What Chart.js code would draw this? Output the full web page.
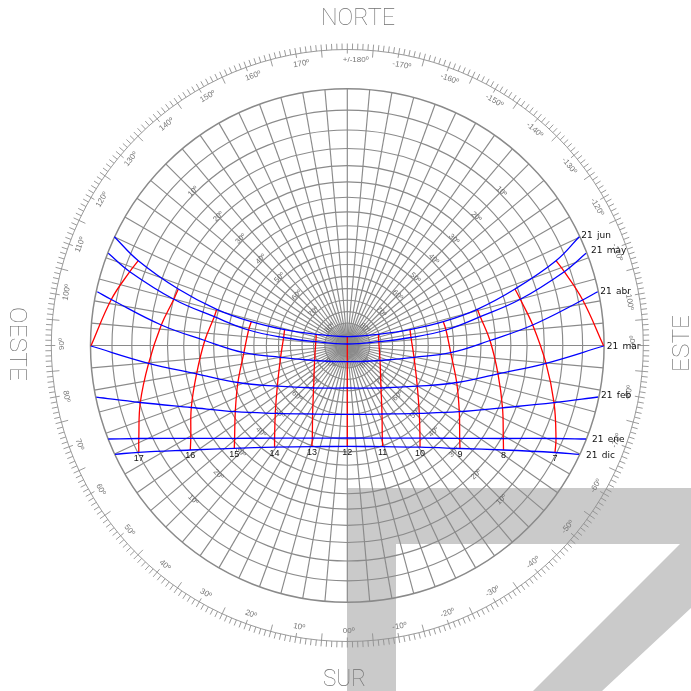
<!DOCTYPE html>
<html>
<head>
<meta charset="utf-8">
<title>Carta solar</title>
<script src="https://cdn.jsdelivr.net/npm/chart.js@4/dist/chart.umd.min.js"></script>
<style>
    html, body { margin: 0; padding: 0; background: #fff; }
    canvas { display: block; }
</style>
</head>
<body>
<canvas id="chart" width="691" height="691"></canvas>
<script>
// slots: west end, 18h ... 6h, east end (null = the day does not reach that hour)
const hourLabels = ['', '', '17', '16', '15', '14', '13', '12', '11', '10', '9', '8', '7', '', ''];

const jun21X = [-233, -209, -169, -130.6, -96, -62.7, -31, 0, 31, 62.7, 96, 130, 167.7, 208.7, 232];
const jun21Y = [108.8, 84.8, 56.5, 36.2, 23.8, 15.8, 11.2, 8.8, 11.2, 15.8, 23.8, 36.2, 56.5, 84.8, 108.8];
const may21X = [-239, -217.5, -173.5, -133, -98.7, -63.7, -31.5, 0, 31.5, 63.7, 98.7, 133, 173, 217, 238.7];
const may21Y = [92.2, 73.8, 46.2, 28.8, 15.5, 8, 3.8, 1.5, 3.8, 8, 15.5, 28.8, 46.2, 73.8, 92.2];
const abr21X = [-250, -236, -186, -142.5, -103.4, -66.7, -32.7, 0, 32.7, 66.7, 103.4, 142.7, 185.4, 235.4, 250.4];
const abr21Y = [53.8, 46, 20.5, 5, -7.2, -11.8, -15, -16.2, -15, -11.8, -7.2, 5, 20.5, 45.5, 53.8];
const mar21X = [null, -256.4, -198.7, -150.7, -109.4, -70, -33.7, 0, 33.7, 70, 109.4, 150.7, 198.7, 256.4, null];
const mar21Y = [null, -0.5, -17.8, -28.3, -37, -40.7, -42.5, -42.5, -42.5, -40.7, -37, -28.3, -17.8, -0.5, null];
const feb21X = [-251, null, -207, -156, -112, -72, -34.7, 0, 34.7, 72, 112, 155.2, 206.7, null, 250.7];
const feb21Y = [-51.7, null, -57, -62, -66.2, -67.8, -68.5, -68.8, -68.5, -67.8, -66.2, -62.3, -57.2, null, -51.5];
const ene21X = [-239, null, -208.5, -156.5, -112.7, -72.7, -35, 0, 35, 72.7, 112.4, 156, 208.7, null, 238.7];
const ene21Y = [-93.5, null, -93, -92.8, -92.8, -92.7, -92.6, -92.5, -92.6, -92.7, -92.8, -93, -93, null, -93.5];
const dic21X = [-232.3, null, -208.5, -157, -113, -72.7, -35.4, 0, 35.4, 72.7, 112.7, 156.2, 207.7, null, 231.7];
const dic21Y = [-108.8, null, -106.8, -104.5, -102.8, -101.7, -101.2, -100.8, -101.2, -101.7, -103, -104.5, -107, null, -108.8];

const dayLabels = ['21 jun', '21 may', '21 abr', '21 mar', '21 feb', '21 ene', '21 dic'];

// altitude rings and azimuth spokes of the stereographic grid
const altitudes = [5, 10, 15, 20, 25, 30, 35, 40, 45, 50, 55, 60, 65, 70, 75, 80, 85];
const altitudeLabels = [10, 20, 30, 40, 50, 60, 70, 80];
const altitudeLabelAzimuths = [45, 135, -135, -45];
const ringAzimuths = [0, 10, 20, 30, 40, 50, 60, 70, 80, 90, 100, 110, 120, 130, 140, 150, 160, 170, 180,
    -170, -160, -150, -140, -130, -120, -110, -100, -90, -80, -70, -60, -50, -40, -30, -20, -10];
const ringLabels = ['00º', '10º', '20º', '30º', '40º', '50º', '60º', '70º', '80º', '90º', '100º', '110º', '120º', '130º', '140º', '150º', '160º', '170º', '+/-180º',
    '-170º', '-160º', '-150º', '-140º', '-130º', '-120º', '-110º', '-100º', '-90º', '-80º', '-70º', '-60º', '-50º', '-40º', '-30º', '-20º', '-10º'];

// grey "7" mark behind the diagram
const logoX = [-0.3, 343.7, 343.7, 254.7, 185.7, 332.7, 48.7, 48.7, -0.3];
const logoY = [-142.5, -142.5, -262.5, -345.5, -345.5, -198.5, -198.5, -345.5, -345.5];

const days = [[jun21X, jun21Y], [may21X, may21Y], [abr21X, abr21Y], [mar21X, mar21Y], [feb21X, feb21Y], [ene21X, ene21Y], [dic21X, dic21Y]];
const dayOffsets = [[2, -1.5], [5, -3], [2.5, 0], [3, 1], [3, -1], [6, 1], [7, 1]];

const RADIUS = 256.8;
const GREY = '#8a8a8a';

function points(xs, ys) {
    const out = [];
    xs.forEach((x, i) => { if (x !== null) out.push({ x: x, y: ys[i] }); });
    return out;
}

function hourPoints(slot) {
    const out = [];
    days.forEach(d => { if (d[0][slot] !== null) out.push({ x: d[0][slot], y: d[1][slot] }); });
    return out;
}

function lastPoint(d) {
    const p = points(d[0], d[1]);
    return p[p.length - 1];
}

const datasets = [];
days.forEach(d => {
    datasets.push({ data: points(d[0], d[1]), borderColor: '#0000ff', borderWidth: 1.3, tension: 0.4, showLine: true, pointRadius: 0 });
});
for (let slot = 1; slot <= 13; slot++) {
    datasets.push({ data: hourPoints(slot), borderColor: '#ff0000', borderWidth: 1.3, tension: 0.4, showLine: true, pointRadius: 0 });
}

function altRadius(alt) {
    return RADIUS * Math.tan((90 - alt) / 2 * Math.PI / 180);
}

function textAngle(az) {
    if (az >= 90 || az < -90) return az > 0 ? az - 180 : az + 180;
    return az;
}

const backdrop = {
    id: 'backdrop',
    beforeDatasetsDraw(chart) {
        const ctx = chart.ctx;
        const sx = chart.scales.x;
        const sy = chart.scales.y;
        const cx = sx.getPixelForValue(0);
        const cy = sy.getPixelForValue(0);
        const px = r => sx.getPixelForValue(r) - cx;
        const polar = (az, r) => {
            const a = az * Math.PI / 180;
            return [sx.getPixelForValue(-r * Math.sin(a)), sy.getPixelForValue(-r * Math.cos(a))];
        };

        ctx.save();
        ctx.fillStyle = '#cacaca';
        ctx.beginPath();
        logoX.forEach((x, i) => {
            ctx.lineTo(sx.getPixelForValue(x), sy.getPixelForValue(logoY[i]));
        });
        ctx.closePath();
        ctx.fill();

        ctx.strokeStyle = GREY;
        ctx.lineWidth = 1.15;
        altitudes.forEach(alt => {
            ctx.beginPath();
            ctx.arc(cx, cy, px(altRadius(alt)), 0, Math.PI * 2);
            ctx.stroke();
        });
        for (let az = 0; az < 360; az += 5) {
            const p = polar(az, RADIUS);
            ctx.beginPath();
            ctx.moveTo(cx, cy);
            ctx.lineTo(p[0], p[1]);
            ctx.stroke();
        }
        // inside the 80 degree ring the spokes are twice as dense, drawn finer
        ctx.lineWidth = 0.45;
        for (let az = 2.5; az < 360; az += 5) {
            const p = polar(az, altRadius(80));
            ctx.beginPath();
            ctx.moveTo(cx, cy);
            ctx.lineTo(p[0], p[1]);
            ctx.stroke();
        }
        ctx.lineWidth = 1.5;
        ctx.beginPath();
        ctx.arc(cx, cy, px(RADIUS), 0, Math.PI * 2);
        ctx.stroke();

        // outer compass ring, one tick per degree
        ctx.lineWidth = 0.9;
        ctx.strokeStyle = '#909090';
        ctx.beginPath();
        ctx.arc(cx, cy, px(296), 0, Math.PI * 2);
        ctx.stroke();
        for (let az = 0; az < 360; az++) {
            const inner = az % 10 === 0 ? 292 : az % 5 === 0 ? 289 : 296;
            const a = polar(az, inner);
            const b = polar(az, 302);
            ctx.beginPath();
            ctx.moveTo(a[0], a[1]);
            ctx.lineTo(b[0], b[1]);
            ctx.stroke();
        }

        ctx.fillStyle = '#777';
        ctx.textBaseline = 'middle';
        ctx.textAlign = 'left';
        ctx.font = '8px "Liberation Sans"';
        ringAzimuths.forEach((az, i) => {
            const p = polar(az, 285.5);
            ctx.save();
            ctx.translate(p[0], p[1]);
            ctx.rotate(textAngle(az) * Math.PI / 180);
            ctx.fillText(ringLabels[i], -4.5, 0);
            ctx.restore();
        });

        ctx.fillStyle = '#666';
        ctx.textAlign = 'center';
        ctx.font = '7.5px "Liberation Sans"';
        altitudeLabelAzimuths.forEach(az => {
            altitudeLabels.forEach(alt => {
                const p = polar(az, altRadius(alt) + 2.5);
                ctx.save();
                ctx.translate(p[0], p[1]);
                ctx.rotate(textAngle(az) * Math.PI / 180);
                ctx.fillText(alt + 'º', 0, 0);
                ctx.restore();
            });
        });

        // compass names, squeezed to the width they have in the drawing
        ctx.fillStyle = '#707070';
        ctx.font = '100 24px Roboto';
        const names = [['NORTE', 358, 18.5, 0, 74], ['SUR', 344.5, 679.5, 0, 43], ['OESTE', 15.5, 344, 90, 74], ['ESTE', 682.5, 343.5, -90, 57]];
        names.forEach(n => {
            ctx.save();
            ctx.translate(n[1], n[2]);
            ctx.rotate(n[3] * Math.PI / 180);
            ctx.scale(n[4] / ctx.measureText(n[0]).width, 1);
            ctx.fillText(n[0], 0, 0);
            ctx.restore();
        });
        ctx.restore();
    },
    afterDatasetsDraw(chart) {
        const ctx = chart.ctx;
        const sx = chart.scales.x;
        const sy = chart.scales.y;
        ctx.save();
        ctx.fillStyle = '#111';
        ctx.textBaseline = 'middle';
        ctx.font = '9px "DejaVu Sans"';
        ctx.textAlign = 'left';
        ctx.wordSpacing = '1.5px';
        dayLabels.forEach((label, i) => {
            const end = lastPoint(days[i]);
            ctx.fillText(label, sx.getPixelForValue(end.x) + dayOffsets[i][0], sy.getPixelForValue(end.y) + dayOffsets[i][1]);
        });
        ctx.wordSpacing = '0px';
        ctx.textAlign = 'center';
        ctx.font = '9px "Liberation Sans"';
        hourLabels.forEach((label, slot) => {
            if (!label) return;
            ctx.fillText(label, sx.getPixelForValue(dic21X[slot]), sy.getPixelForValue(dic21Y[slot]) + 6);
        });
        ctx.restore();
    }
};

new Chart(document.getElementById('chart').getContext('2d'), {
    type: 'scatter',
    data: { datasets: datasets },
    options: {
        responsive: false,
        animation: false,
        events: [],
        layout: { padding: 0 },
        plugins: { legend: { display: false }, tooltip: { enabled: false } },
        scales: {
            x: { type: 'linear', display: false, min: -347.3, max: 343.7 },
            y: { type: 'linear', display: false, min: -345.5, max: 345.5 }
        }
    },
    plugins: [backdrop]
});
</script>
</body>
</html>
